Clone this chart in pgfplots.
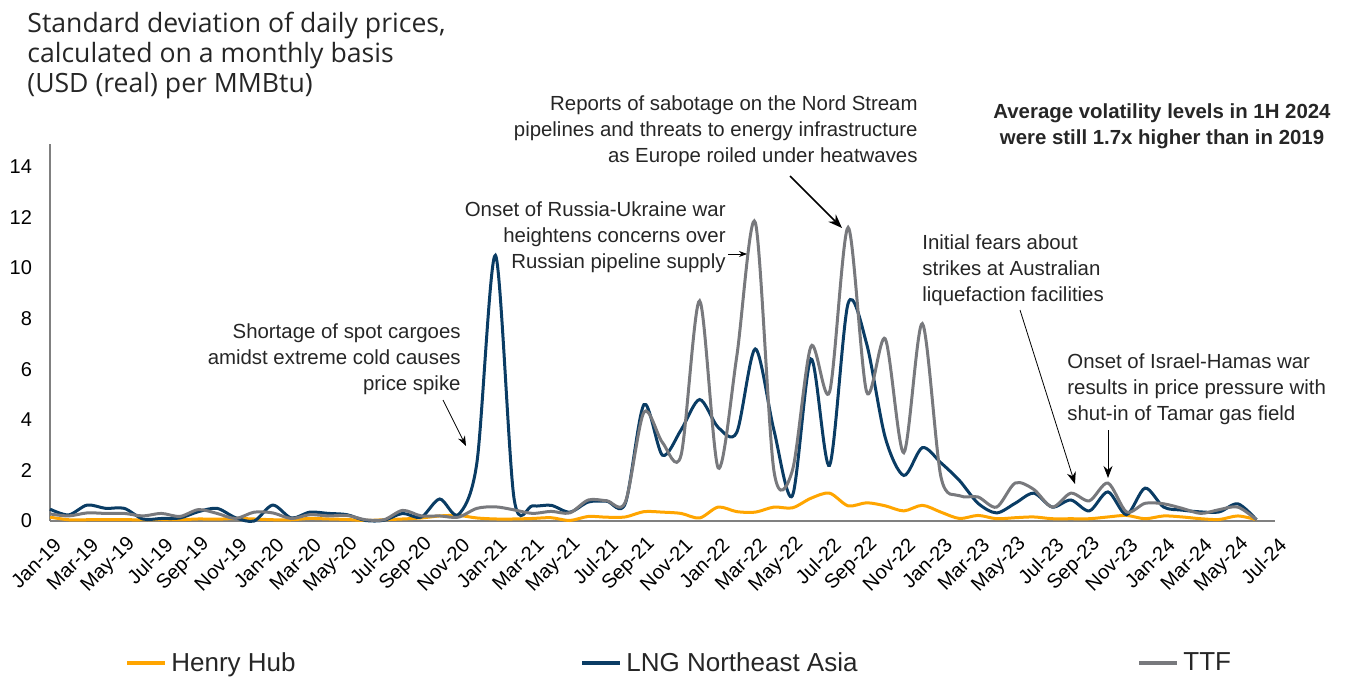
\documentclass[border=0pt]{standalone}
\usepackage{pgfplots}
\pgfplotsset{compat=1.18}
\usepackage{pgfplotstable}
\usetikzlibrary{arrows.meta}
\usepackage{fontspec}
\setmainfont{Liberation Sans}
\newfontfamily\titlefont{Open Sans}
\definecolor{hh}{RGB}{255,165,0}
\definecolor{lng}{RGB}{10,60,100}
\definecolor{ttf}{RGB}{120,121,125}
\definecolor{axisgray}{RGB}{128,128,128}
\definecolor{txt}{RGB}{38,38,38}

\pgfplotstableread{
m hh lng ttf
0 0.15 0.47 0.28
1 0.05 0.24 0.20
2 0.05 0.63 0.32
3 0.05 0.50 0.30
4 0.05 0.50 0.30
5 0.05 0.08 0.20
6 0.06 0.10 0.30
7 0.05 0.12 0.18
8 0.08 0.37 0.45
9 0.07 0.50 0.30
10 0.10 0.13 0.10
11 0.08 0.00 0.35
12 0.05 0.63 0.32
13 0.05 0.12 0.10
14 0.10 0.35 0.25
15 0.08 0.30 0.20
16 0.06 0.25 0.22
17 0.02 0.02 0.05
18 0.05 0.03 0.05
19 0.08 0.30 0.42
20 0.12 0.15 0.20
21 0.20 0.87 0.20
22 0.22 0.25 0.15
23 0.12 2.30 0.50
24 0.08 10.50 0.56
25 0.08 0.90 0.44
26 0.10 0.60 0.30
27 0.13 0.62 0.38
28 0.02 0.35 0.32
29 0.18 0.75 0.83
30 0.15 0.78 0.80
31 0.16 0.70 0.75
32 0.37 4.60 4.30
33 0.35 2.60 3.10
34 0.30 3.60 2.60
35 0.12 4.80 8.70
36 0.55 3.70 2.10
37 0.37 3.50 6.50
38 0.35 6.80 11.80
39 0.55 3.60 2.00
40 0.52 1.00 2.00
41 0.90 6.40 6.90
42 1.10 2.20 5.10
43 0.60 8.60 11.60
44 0.72 7.00 5.10
45 0.60 3.30 7.20
46 0.40 1.80 2.70
47 0.62 2.90 7.80
48 0.35 2.30 1.75
49 0.10 1.60 1.00
50 0.22 0.70 0.95
51 0.09 0.32 0.55
52 0.13 0.70 1.50
53 0.16 1.10 1.25
54 0.09 0.55 0.55
55 0.09 0.83 1.10
56 0.09 0.40 0.80
57 0.16 1.15 1.50
58 0.22 0.25 0.36
59 0.09 1.30 0.70
60 0.20 0.55 0.68
61 0.16 0.43 0.50
62 0.09 0.36 0.30
63 0.06 0.36 0.45
64 0.20 0.68 0.55
65 0.05 0.05 0.05
}\vol

\begin{document}
\begin{tikzpicture}
\path (0pt,0pt) rectangle (674.5pt,338.5pt);
\begin{axis}[
  at={(25pt,78pt)}, anchor=south west,
  scale only axis, width=612.5pt, height=188.5pt,
  xmin=0, xmax=66, ymin=0, ymax=14.9,
  axis x line*=bottom, axis y line*=left,
  axis line style={draw=axisgray, line width=0.8pt, -},
  xtick={0,2,...,66},
  xticklabels={Jan-19,Mar-19,May-19,Jul-19,Sep-19,Nov-19,Jan-20,Mar-20,May-20,Jul-20,Sep-20,Nov-20,Jan-21,Mar-21,May-21,Jul-21,Sep-21,Nov-21,Jan-22,Mar-22,May-22,Jul-22,Sep-22,Nov-22,Jan-23,Mar-23,May-23,Jul-23,Sep-23,Nov-23,Jan-24,Mar-24,May-24,Jul-24},
  ytick={0,2,...,14},
  major tick length=0pt,
  /pgf/number format/assume math mode=true,
  yticklabel style={font=\fontsize{10}{12}\selectfont, text=black, xshift=-5.5pt},
  xticklabel style={font=\fontsize{10}{12}\selectfont, text=black, rotate=45, anchor=east, xshift=-1pt, yshift=-10pt},
  clip=false,
  legend columns=3,
  legend style={draw=none, fill=none, at={(0.0612,-0.377)}, anchor=west,
    font=\fontsize{13}{15}\selectfont, text=txt, inner sep=0pt,
    /tikz/every even column/.append style={column sep=0pt}},
  legend image code/.code={\draw[#1, line width=2pt] (0pt,0pt) -- (19pt,0pt);},
]
\addplot[hh, line width=1.5pt, smooth] table[x=m, y=hh] {\vol};
\addlegendentry{\makebox[202.5pt][l]{Henry Hub}}
\addplot[lng, line width=1.5pt, smooth] table[x=m, y=lng] {\vol};
\addlegendentry{\makebox[253.5pt][l]{LNG Northeast Asia}}
\addplot[ttf, line width=1.5pt, smooth] table[x=m, y=ttf] {\vol};
\addlegendentry{TTF}
\end{axis}
\begin{scope}[x=0.5pt, y=0.5pt]
% title
\node[anchor=north west, align=left, inner sep=0pt, text=txt, font=\titlefont\fontsize{13.3}{15}\selectfont] at (27,665) {Standard deviation of daily prices,\\calculated on a monthly basis\\(USD (real) per MMBtu)};
% annotations
\tikzset{ann/.style={inner sep=0pt, text=txt, font=\fontsize{10.2}{13}\selectfont}}
\node[ann, anchor=north east, align=right] at (461,{677-323}) {Shortage of spot cargoes\\amidst extreme cold causes\\price spike};
\draw[-{Stealth[length=5pt]}, thin] (443,{677-400}) -- (466,{677-446});
\node[ann, anchor=north east, align=right] at (726,{677-201}) {Onset of Russia-Ukraine war\\heightens concerns over\\Russian pipeline supply};
\draw[-{Stealth[length=4pt]}, thin] (728,{677-254}) -- (747,{677-254});
\node[ann, anchor=north east, align=right] at (918,{677-95}) {Reports of sabotage on the Nord Stream\\pipelines and threats to energy infrastructure\\as Europe roiled under heatwaves};
\draw[-{Stealth[length=7pt]}, line width=0.8pt] (790,{677-176}) -- (842,{677-228});
\node[ann, anchor=north west, align=left] at (922,{677-234}) {Initial fears about\\strikes at Australian\\liquefaction facilities};
\draw[-{Stealth[length=6pt]}, thin] (1020,{677-310}) -- (1075,{677-484});
\node[ann, anchor=north west, align=left] at (1067,{677-353}) {Onset of Israel-Hamas war\\results in price pressure with\\shut-in of Tamar gas field};
\draw[-{Stealth[length=6pt]}, thin] (1108,{677-430}) -- (1108,{677-478});
\node[ann, anchor=north, align=center, font=\bfseries\fontsize{10.2}{13}\selectfont] at (1162,{677-103}) {Average volatility levels in 1H 2024\\were still 1.7x higher than in 2019};
\end{scope}
\end{tikzpicture}
\end{document}
